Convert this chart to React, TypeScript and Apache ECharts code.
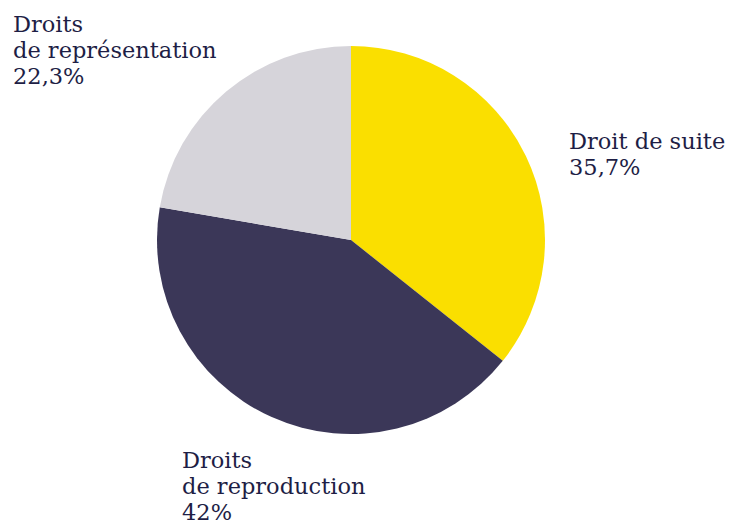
import React, { useEffect, useRef } from "react";
import * as echarts from "echarts";

const categories = ["Droit de suite", "Droits\nde reproduction", "Droits\nde représentation"];
const values = [35.7, 42, 22.3];
const valueLabels = ["35,7%", "42%", "22,3%"];
const colors = ["#FADF00", "#3B3758", "#D6D4DA"];
const labelPos = [
  [569, 128],
  [182, 447],
  [13, 11],
];

export default function App() {
  const ref = useRef<HTMLDivElement>(null);
  useEffect(() => {
    document.body.style.margin = "0";
    const chart = echarts.init(ref.current!, undefined, { renderer: "svg" });
    chart.setOption({
      animation: false,
      backgroundColor: "#ffffff",
      series: [
        {
          type: "pie",
          center: [351, 240],
          radius: 194,
          startAngle: 90,
          clockwise: true,
          data: categories.map((c, i) => ({
            name: c,
            value: values[i],
            itemStyle: { color: colors[i] },
          })),
          label: {
            show: true,
            position: "outside",
            formatter: (p: any) => `${p.name}\n${valueLabels[p.dataIndex]}`,
            color: "#1E1E45",
            fontFamily: "DejaVu Serif",
            fontSize: 22.5,
            lineHeight: 26,
            align: "left",
            overflow: "none",
            width: 300,
          },
          labelLine: { show: false },
          labelLayout: (params: any) => ({
            x: labelPos[params.dataIndex][0],
            y: labelPos[params.dataIndex][1],
            align: "left",
            verticalAlign: "top",
            hideOverlap: false,
          }),
          emphasis: { disabled: true },
        },
      ],
    });
    return () => chart.dispose();
  }, []);
  return <div ref={ref} style={{ width: 729, height: 527 }} />;
}
